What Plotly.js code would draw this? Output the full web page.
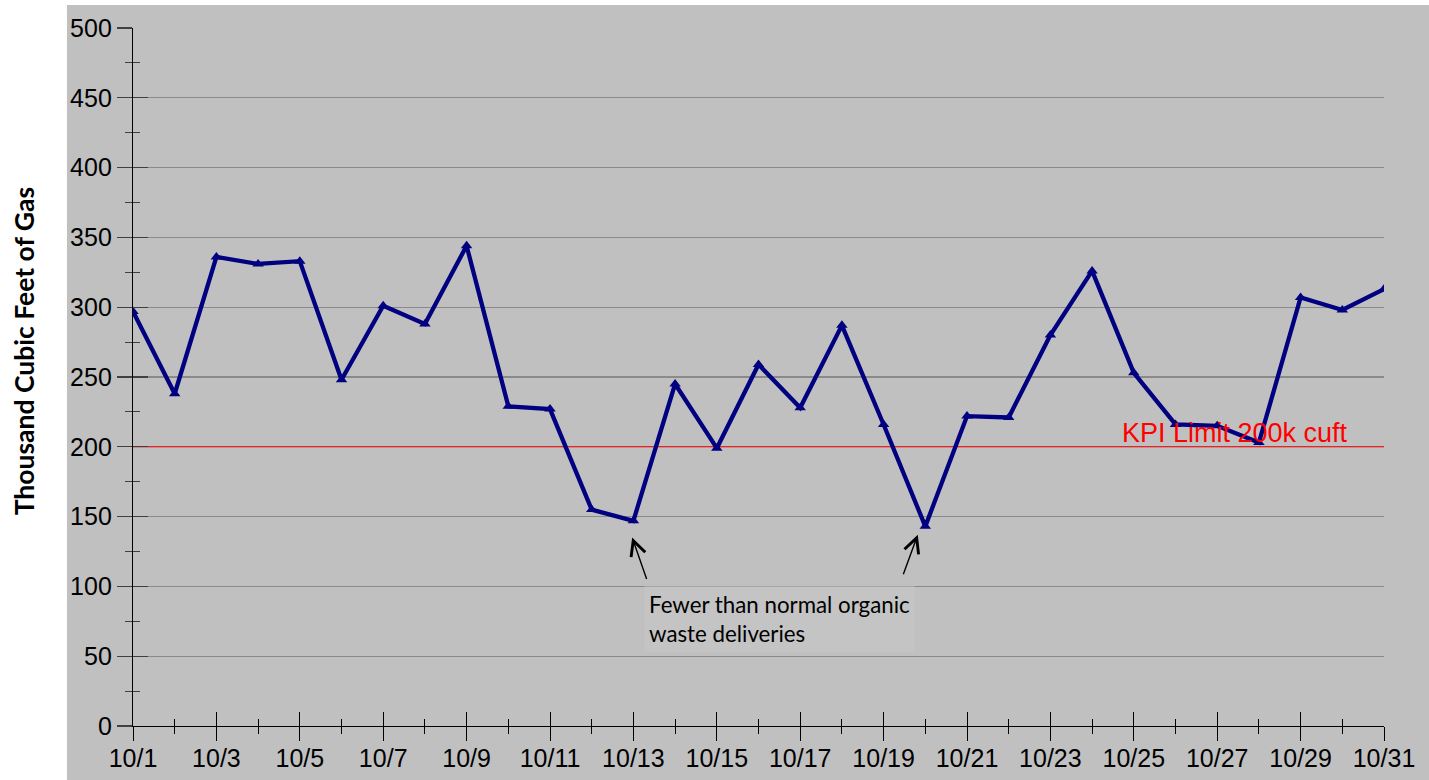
<!DOCTYPE html>
<html>
<head>
<meta charset="utf-8">
<script src="https://cdn.plot.ly/plotly-3.0.1.min.js"></script>
<style>
html,body{margin:0;padding:0;background:#ffffff;}
#chart{width:1429px;height:780px;}
</style>
</head>
<body>
<div id="chart"></div>
<script>
// ---- data ----
const dates = ['10/1','10/2','10/3','10/4','10/5','10/6','10/7','10/8','10/9','10/10',
  '10/11','10/12','10/13','10/14','10/15','10/16','10/17','10/18','10/19','10/20',
  '10/21','10/22','10/23','10/24','10/25','10/26','10/27','10/28','10/29','10/30','10/31'];
const gas = [297,238,336,331,333,248,301,288,344,229,
  227,155,147,245,199,259,228,287,216,143,
  222,221,280,326,253,216,215,203,307,298,313];
const kpiLimit = 200;
const kpiLabel = 'KPI Limit 200k cuft';
const yTitle = 'Thousand Cubic Feet of Gas';
const noteText = 'Fewer than normal organic<br>waste deliveries';
const noteDays = ['10/13','10/20'];

const days = dates.map((d,i)=>i+1);
const tickVals = days.filter(d=>d%2===1);
const tickText = tickVals.map(d=>dates[d-1]);
const dayOf = lbl => dates.indexOf(lbl)+1;

const xr = [1,31], yr = [0,500];
const tickFont = {family:'"Liberation Sans", Arial, sans-serif', size:25, color:'#000'};

const traces = [
  {x:days, y:days.map(()=>kpiLimit), xaxis:'x', yaxis:'y', mode:'lines',
   line:{color:'#ff0000', width:1}, hoverinfo:'skip', showlegend:false},
  {x:days, y:gas, xaxis:'x', yaxis:'y', mode:'lines+markers',
   line:{color:'#000080', width:4.3},
   marker:{symbol:'triangle-up', size:10, color:'#000080'},
   showlegend:false},
  // carrier for the overlay axes that draw the inner half of the crossing ticks
  {x:days, y:gas, xaxis:'x2', yaxis:'y2', mode:'lines', opacity:0,
   line:{width:0}, hoverinfo:'skip', showlegend:false}
];

const layout = {
  width:1429, height:780,
  margin:{l:133, r:45, t:28, b:54},
  paper_bgcolor:'#ffffff',
  plot_bgcolor:'rgba(0,0,0,0)',
  showlegend:false,
  xaxis:{range:xr, tickmode:'array', tickvals:tickVals, ticktext:tickText,
    ticks:'outside', ticklen:14, tickwidth:1, tickcolor:'#000', ticklabelstandoff:-4,
    minor:{tickmode:'linear', tick0:0, dtick:1, ticks:'outside', ticklen:7, tickwidth:1, tickcolor:'#000', showgrid:false},
    showline:true, linecolor:'#000', linewidth:1.2, showgrid:false, zeroline:false,
    tickfont:tickFont, fixedrange:true},
  yaxis:{range:yr, tickmode:'linear', tick0:0, dtick:50,
    ticks:'outside', ticklen:15, tickwidth:1.2, tickcolor:'#404040',
    minor:{tickmode:'linear', tick0:0, dtick:25, ticks:'outside', ticklen:7, tickwidth:1, tickcolor:'#404040', showgrid:false},
    showline:true, linecolor:'#000', linewidth:1.2,
    showgrid:true, gridcolor:'#8a8a8a', gridwidth:1.3, zeroline:false,
    tickfont:tickFont, fixedrange:true},
  xaxis2:{range:xr, overlaying:'x', anchor:'y2', side:'bottom',
    tickmode:'array', tickvals:tickVals, ticktext:tickText, showticklabels:false,
    ticks:'inside', ticklen:14, tickwidth:1, tickcolor:'#000',
    minor:{tickmode:'linear', tick0:0, dtick:1, ticks:'inside', ticklen:7, tickwidth:1, tickcolor:'#000', showgrid:false},
    showline:false, showgrid:false, zeroline:false, fixedrange:true},
  yaxis2:{range:yr, overlaying:'y', anchor:'x2', side:'left',
    tickmode:'linear', tick0:0, dtick:50, showticklabels:false,
    ticks:'inside', ticklen:15, tickwidth:1.2, tickcolor:'#404040',
    minor:{tickmode:'linear', tick0:0, dtick:25, ticks:'inside', ticklen:7, tickwidth:1, tickcolor:'#404040', showgrid:false},
    showline:false, showgrid:false, zeroline:false, fixedrange:true},
  shapes:[
    {type:'rect', xref:'paper', yref:'paper', x0:-0.0528, x1:1.04, y0:-0.08, y1:1.033,
     fillcolor:'#c0c0c0', line:{width:0}, layer:'below'}
  ],
  annotations:[
    {xref:'paper', yref:'paper', x:-0.087, y:0.537, text:'<b>'+yTitle+'</b>', textangle:-90,
     showarrow:false, xanchor:'center', yanchor:'middle',
     font:{family:'Lato, "Open Sans", sans-serif', size:26.5, color:'#000'}},
    {xref:'x', yref:'y', x:24.67, y:210, text:kpiLabel, showarrow:false,
     xanchor:'left', yanchor:'middle',
     font:{family:'"Liberation Sans", Arial, sans-serif', size:27, color:'#ff0000'}},
    {xref:'x', yref:'y', x:dayOf(noteDays[0])+0.25, y:76.5, text:noteText, showarrow:false,
     xanchor:'left', yanchor:'middle', align:'left', bgcolor:'#c4c4c4', borderpad:4,
     font:{family:'Lato, "Open Sans", sans-serif', size:22.3, color:'#000'}},
    {xref:'x', yref:'y', x:dayOf(noteDays[0])-0.03, y:135, text:'', showarrow:true,
     ax:15, ay:43, arrowhead:5, arrowsize:2.1, arrowwidth:1.4, arrowcolor:'#000'},
    {xref:'x', yref:'y', x:dayOf(noteDays[1])-0.18, y:137, text:'', showarrow:true,
     ax:-15, ay:41, arrowhead:5, arrowsize:2.1, arrowwidth:1.4, arrowcolor:'#000'}
  ]
};

Plotly.newPlot('chart', traces, layout, {displayModeBar:false, staticPlot:true});
</script>
</body>
</html>
